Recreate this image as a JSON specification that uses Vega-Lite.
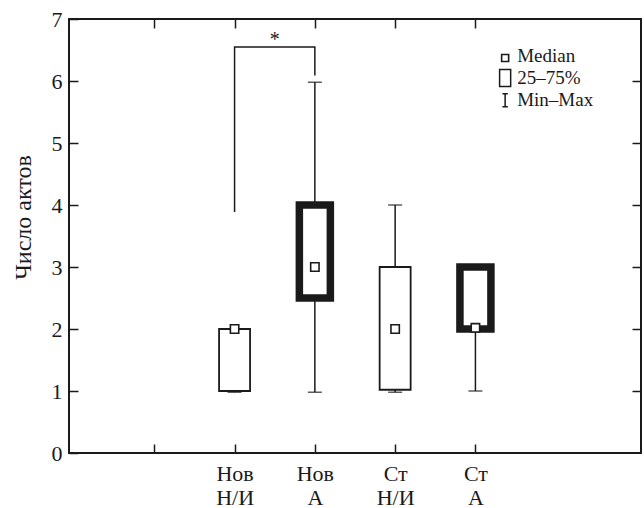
{
  "$schema": "https://vega.github.io/schema/vega-lite/v6.json",
  "width": 572,
  "height": 434,
  "autosize": {"type": "none"},
  "padding": {"left": 69, "top": 19, "right": 3, "bottom": 55},
  "background": "white",
  "config": {
    "view": {"stroke": "#1a1a1a", "strokeWidth": 2},
    "font": "Liberation Serif",
    "axis": {"grid": false, "domain": false, "tickColor": "#1a1a1a", "tickWidth": 1.5, "labelColor": "#1a1a1a", "titleColor": "#1a1a1a"}
  },
  "datasets": {
    "boxes": [
      {"group": "Нов Н/И", "pos": 2, "min": 0.98, "q1": 1, "median": 2, "q3": 2, "max": 2, "kind": "thin"},
      {"group": "Нов А", "pos": 3, "min": 0.98, "q1": 2.5, "median": 3, "q3": 4, "max": 5.98, "kind": "thick"},
      {"group": "Ст Н/И", "pos": 4, "min": 0.98, "q1": 1.02, "median": 2, "q3": 3, "max": 4, "kind": "thin"},
      {"group": "Ст А", "pos": 5, "min": 1, "q1": 2, "median": 2.02, "q3": 3, "max": 3, "kind": "thick"}
    ],
    "bracket": [
      {"x": 2, "y": 3.9, "o": 0},
      {"x": 2, "y": 6.55, "o": 1},
      {"x": 3, "y": 6.55, "o": 2},
      {"x": 3, "y": 6.1, "o": 3}
    ],
    "legend": [
      {"x": 5.37, "y": 6.37, "item": "median", "label": "Median"},
      {"x": 5.37, "y": 6.05, "item": "box", "label": "25–75%"},
      {"x": 5.37, "y": 5.69, "item": "range", "label": "Min–Max"}
    ]
  },
  "resolve": {"axis": {"x": "independent", "y": "independent"}},
  "layer": [
    {
      "data": {"name": "boxes"},
      "mark": {"type": "rule", "strokeWidth": 1.5, "color": "#1a1a1a"},
      "encoding": {
        "x": {"field": "pos", "type": "quantitative", "scale": {"domain": [0, 7], "nice": false, "zero": false},
          "axis": {"orient": "bottom", "values": [1, 2, 3, 4, 5], "tickSize": -9, "labelFontSize": 22, "labelLineHeight": 24, "labelPadding": 19, "labelBaseline": "top",
            "labelExpr": "datum.value == 2 ? ['Нов', 'Н/И'] : datum.value == 3 ? ['Нов', 'А'] : datum.value == 4 ? ['Ст', 'Н/И'] : datum.value == 5 ? ['Ст', 'А'] : ''",
            "title": null}},
        "y": {"field": "min", "type": "quantitative", "scale": {"domain": [0, 7], "nice": false},
          "axis": {"orient": "left", "values": [0, 1, 2, 3, 4, 5, 6, 7], "tickSize": -9, "labelFontSize": 22, "labelPadding": 16,
            "title": "Число актов", "titleFontSize": 24, "titleFontWeight": "normal", "titleX": -46, "titleY": 198, "titleBaseline": "middle"}},
        "y2": {"field": "max"}
      }
    },
    {
      "data": {"name": "boxes"},
      "mark": {"type": "tick", "orient": "horizontal", "size": 14, "thickness": 1.5, "color": "#1a1a1a"},
      "encoding": {
        "x": {"field": "pos", "type": "quantitative",
          "axis": {"orient": "top", "values": [1, 2, 3, 4, 5], "tickSize": -9, "labels": false, "title": null}},
        "y": {"field": "min", "type": "quantitative",
          "axis": {"orient": "right", "values": [1, 2, 3, 4, 5, 6], "tickSize": -9, "labels": false, "title": null}}
      }
    },
    {
      "data": {"name": "boxes"},
      "mark": {"type": "tick", "orient": "horizontal", "size": 14, "thickness": 1.5, "color": "#1a1a1a"},
      "encoding": {
        "x": {"field": "pos", "type": "quantitative", "axis": null},
        "y": {"field": "max", "type": "quantitative", "axis": null}
      }
    },
    {
      "data": {"name": "boxes"},
      "transform": [{"filter": "datum.kind == 'thin'"}],
      "mark": {"type": "bar", "size": 31, "fill": "white", "stroke": "#1a1a1a", "strokeWidth": 1.8},
      "encoding": {
        "x": {"field": "pos", "type": "quantitative", "axis": null},
        "y": {"field": "q1", "type": "quantitative", "axis": null},
        "y2": {"field": "q3"}
      }
    },
    {
      "data": {"name": "boxes"},
      "transform": [{"filter": "datum.kind == 'thick'"}],
      "mark": {"type": "bar", "size": 31, "fill": "white", "stroke": "#1a1a1a", "strokeWidth": 7.5},
      "encoding": {
        "x": {"field": "pos", "type": "quantitative", "axis": null},
        "y": {"field": "q1", "type": "quantitative", "axis": null},
        "y2": {"field": "q3"}
      }
    },
    {
      "data": {"name": "boxes"},
      "mark": {"type": "point", "shape": "square", "size": 70, "filled": true, "fill": "white", "stroke": "#1a1a1a", "strokeWidth": 1.6, "opacity": 1},
      "encoding": {
        "x": {"field": "pos", "type": "quantitative", "axis": null},
        "y": {"field": "median", "type": "quantitative", "axis": null}
      }
    },
    {
      "data": {"name": "bracket"},
      "mark": {"type": "line", "strokeWidth": 1.5, "color": "#1a1a1a", "strokeCap": "square"},
      "encoding": {
        "x": {"field": "x", "type": "quantitative", "axis": null},
        "y": {"field": "y", "type": "quantitative", "axis": null},
        "order": {"field": "o"}
      }
    },
    {
      "data": {"values": [{"x": 2.5, "y": 6.66, "t": "*"}]},
      "mark": {"type": "text", "fontSize": 20, "color": "#1a1a1a", "baseline": "middle"},
      "encoding": {
        "x": {"field": "x", "type": "quantitative", "axis": null},
        "y": {"field": "y", "type": "quantitative", "axis": null},
        "text": {"field": "t"}
      }
    },
    {
      "data": {"name": "legend"},
      "transform": [{"filter": "datum.item == 'median'"}],
      "mark": {"type": "point", "shape": "square", "size": 49, "filled": true, "fill": "white", "stroke": "#1a1a1a", "strokeWidth": 1.6, "opacity": 1},
      "encoding": {
        "x": {"field": "x", "type": "quantitative", "axis": null},
        "y": {"field": "y", "type": "quantitative", "axis": null}
      }
    },
    {
      "data": {"name": "legend"},
      "transform": [{"filter": "datum.item == 'box'"}],
      "mark": {"type": "point", "shape": "M-0.65,-1L0.65,-1L0.65,1L-0.65,1Z", "size": 289, "filled": true, "fill": "white", "stroke": "#1a1a1a", "strokeWidth": 1.5, "opacity": 1},
      "encoding": {
        "x": {"field": "x", "type": "quantitative", "axis": null},
        "y": {"field": "y", "type": "quantitative", "axis": null}
      }
    },
    {
      "data": {"name": "legend"},
      "transform": [{"filter": "datum.item == 'range'"}],
      "mark": {"type": "point", "shape": "M-0.42,-1L0.42,-1M0,-1L0,1M-0.42,1L0.42,1", "size": 169, "filled": false, "stroke": "#1a1a1a", "strokeWidth": 1.5, "opacity": 1},
      "encoding": {
        "x": {"field": "x", "type": "quantitative", "axis": null},
        "y": {"field": "y", "type": "quantitative", "axis": null}
      }
    },
    {
      "data": {"name": "legend"},
      "transform": [{"filter": "datum.item == 'median'"}],
      "mark": {"type": "text", "fontSize": 19, "align": "left", "baseline": "middle", "dx": 12, "dy": -2, "color": "#1a1a1a"},
      "encoding": {
        "x": {"field": "x", "type": "quantitative", "axis": null},
        "y": {"field": "y", "type": "quantitative", "axis": null},
        "text": {"field": "label"}
      }
    },
    {
      "data": {"name": "legend"},
      "transform": [{"filter": "datum.item != 'median'"}],
      "mark": {"type": "text", "fontSize": 19, "align": "left", "baseline": "middle", "dx": 12, "color": "#1a1a1a"},
      "encoding": {
        "x": {"field": "x", "type": "quantitative", "axis": null},
        "y": {"field": "y", "type": "quantitative", "axis": null},
        "text": {"field": "label"}
      }
    }
  ]
}
